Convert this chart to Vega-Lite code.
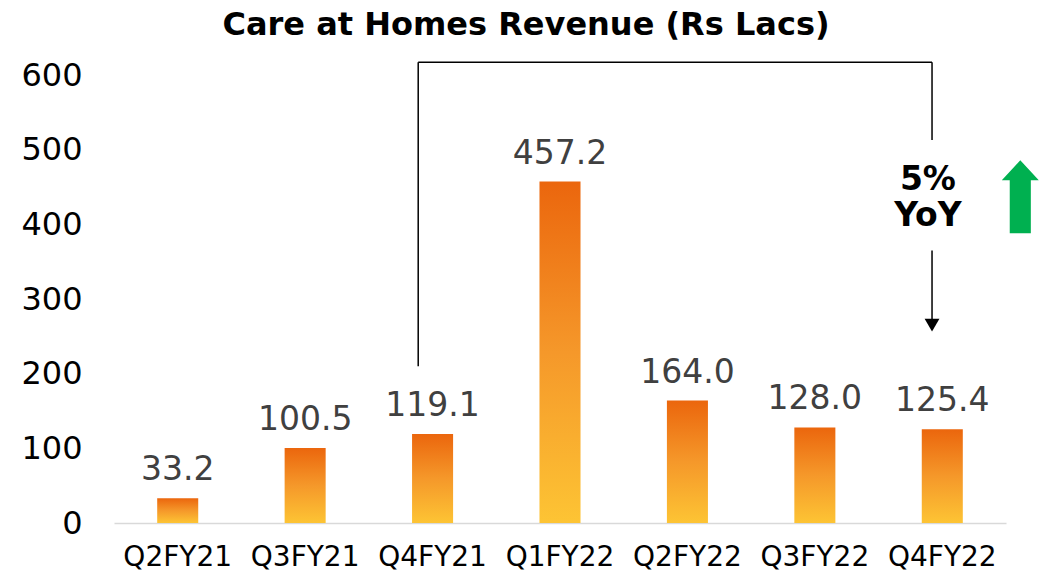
{
  "$schema": "https://vega.github.io/schema/vega-lite/v6.json",
  "width": 892,
  "height": 448,
  "autosize": {"type": "none"},
  "padding": {"left": 114, "top": 75, "right": 42, "bottom": 54},
  "background": "white",
  "config": {"view": {"stroke": null}, "font": "DejaVu Sans"},
  "title": {"text": "Care at Homes Revenue (Rs Lacs)", "font": "DejaVu Sans", "fontWeight": "bold", "fontSize": 32, "color": "#000000", "anchor": "middle", "dx": -34, "offset": 17},
  "data": {"values": [
    {"quarter": "Q2FY21", "revenue": 33.2},
    {"quarter": "Q3FY21", "revenue": 100.5},
    {"quarter": "Q4FY21", "revenue": 119.1},
    {"quarter": "Q1FY22", "revenue": 457.2},
    {"quarter": "Q2FY22", "revenue": 164.0},
    {"quarter": "Q3FY22", "revenue": 128.0},
    {"quarter": "Q4FY22", "revenue": 125.4}
  ]},
  "encoding": {
    "x": {"field": "quarter", "type": "nominal", "sort": null,
      "scale": {"paddingInner": 0.678, "paddingOuter": 0.339},
      "axis": {"title": null, "labelAngle": 0, "labelFontSize": 28, "labelColor": "#000000", "labelPadding": 20, "ticks": false, "domain": true, "domainColor": "#d9d9d9", "domainWidth": 1.5}},
    "y": {"field": "revenue", "type": "quantitative",
      "scale": {"domain": [0, 600]},
      "axis": {"title": null, "values": [0, 100, 200, 300, 400, 500, 600], "labelFontSize": 32, "labelColor": "#000000", "labelPadding": 32, "ticks": false, "domain": false, "grid": false}}
  },
  "layer": [
    {"mark": {"type": "bar", "color": {"gradient": "linear", "x1": 0, "y1": 0, "x2": 0, "y2": 1, "stops": [
      {"offset": 0, "color": "#EB660D"},
      {"offset": 0.5, "color": "#F5982A"},
      {"offset": 1, "color": "#FDC434"}]}}},
    {"mark": {"type": "text", "baseline": "alphabetic", "dy": -18, "fontSize": 33, "color": "#404040"},
      "encoding": {"text": {"field": "revenue", "type": "quantitative", "format": ".1f"}}},
    {"data": {"values": [{"quarter": "Q4FY21", "y": 210, "y2": 617}]},
      "mark": {"type": "rule", "color": "#000000", "strokeWidth": 1.5},
      "encoding": {"x": {"field": "quarter", "type": "nominal", "bandPosition": 0.15}, "y": {"field": "y", "type": "quantitative"}, "y2": {"field": "y2"}}},
    {"data": {"values": [{"quarter": "Q4FY21", "quarter2": "Q4FY22", "y": 617}]},
      "mark": {"type": "rule", "color": "#000000", "strokeWidth": 1.5},
      "encoding": {"x": {"field": "quarter", "type": "nominal", "bandPosition": 0.15}, "x2": {"field": "quarter2", "bandPosition": 0.25}, "y": {"field": "y", "type": "quantitative"}}},
    {"data": {"values": [{"quarter": "Q4FY22", "y": 617, "y2": 513}, {"quarter": "Q4FY22", "y": 365, "y2": 270}]},
      "mark": {"type": "rule", "color": "#000000", "strokeWidth": 1.5},
      "encoding": {"x": {"field": "quarter", "type": "nominal", "bandPosition": 0.25}, "y": {"field": "y", "type": "quantitative"}, "y2": {"field": "y2"}}},
    {"data": {"values": [{"quarter": "Q4FY22", "y": 265}]},
      "mark": {"type": "point", "shape": "triangle-down", "filled": true, "color": "#000000", "size": 220, "opacity": 1},
      "encoding": {"x": {"field": "quarter", "type": "nominal", "bandPosition": 0.25}, "y": {"field": "y", "type": "quantitative"}}},
    {"data": {"values": [{"quarter": "Q4FY22", "y": 459, "label": "5%\nYoY"}]},
      "mark": {"type": "text", "fontWeight": "bold", "fontSize": 33, "color": "#000000", "lineBreak": "\n", "lineHeight": 36, "baseline": "middle", "align": "center"},
      "encoding": {"x": {"field": "quarter", "type": "nominal", "bandPosition": 0.15}, "y": {"field": "y", "type": "quantitative"}, "text": {"field": "label"}}},
    {"data": {"values": [{"quarter": "Q4FY22", "y": 437}]},
      "mark": {"type": "point", "shape": "M0,-1.97L1,-0.89L0.57,-0.89L0.57,1.97L-0.57,1.97L-0.57,-0.89L-1,-0.89Z", "filled": true, "color": "#00B050", "size": 1369, "opacity": 1, "xOffset": 78},
      "encoding": {"x": {"field": "quarter", "type": "nominal", "bandPosition": 0.5}, "y": {"field": "y", "type": "quantitative"}}}
  ]
}
